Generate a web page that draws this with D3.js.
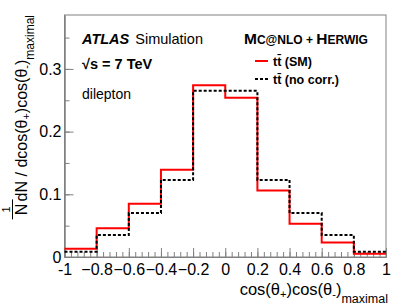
<!DOCTYPE html>
<html><head><meta charset="utf-8">
<script src="https://cdn.jsdelivr.net/npm/d3@7/dist/d3.min.js"></script>
<style>
body{margin:0;background:#fff;}
svg{display:block;font-family:"Liberation Sans",Arial,Helvetica,sans-serif;}
</style></head>
<body><svg id="c" width="407" height="308"></svg>
<script>
const binEdges = [-1,-0.8,-0.6,-0.4,-0.2,0,0.2,0.4,0.6,0.8,1];
const smValues = [0.013,0.046,0.085,0.139,0.274,0.254,0.106,0.053,0.023,0.005];
const noCorrValues = [0.0085,0.035,0.070,0.123,0.265,0.265,0.123,0.070,0.035,0.0085];
const xTickLabels = [-1,-0.8,-0.6,-0.4,-0.2,0,0.2,0.4,0.6,0.8,1];
const yTickLabels = [0,0.1,0.2,0.3];

const svg = d3.select("#c");
const L=64.5, R=386, T=15, B=257;
const x = d3.scaleLinear().domain([-1,1]).range([L,R]);
const y = d3.scaleLinear().domain([0,0.386]).range([B,T]);

svg.append("rect").attr("x",L).attr("y",T).attr("width",R-L).attr("height",B-T)
  .attr("fill","none").attr("stroke","#808080").attr("stroke-width",1);

const yMinor = d3.range(0,0.3851,0.05);
const xMinor = d3.range(-1,1.0001,0.04);
const gyMin = svg.append("g").attr("transform",`translate(${L},0)`)
  .call(d3.axisLeft(y).tickValues(yMinor).tickSizeInner(-5).tickSizeOuter(0).tickFormat(""));
const gxMin = svg.append("g").attr("transform",`translate(0,${B})`)
  .call(d3.axisBottom(x).tickValues(xMinor).tickSizeInner(-5).tickSizeOuter(0).tickFormat(""));
const gy = svg.append("g").attr("transform",`translate(${L},0)`)
  .call(d3.axisLeft(y).tickValues(yTickLabels).tickSizeInner(-9).tickSizeOuter(0).tickPadding(3)
  .tickFormat(d=>d===0?"0":d3.format(".1f")(d)));
const gx = svg.append("g").attr("transform",`translate(0,${B})`)
  .call(d3.axisBottom(x).tickValues(xTickLabels).tickSizeInner(-9).tickSizeOuter(0).tickPadding(7)
  .tickFormat(d=>d===0?"0":(Math.abs(d)===1?String(d):d3.format(".1f")(d))));
[gyMin,gxMin,gy,gx].forEach(g=>{
  g.select(".domain").attr("stroke","#808080");
  g.selectAll(".tick line").attr("stroke","#808080");
  g.selectAll("text").attr("font-size",16).attr("fill","#000")
   .attr("font-family","'Liberation Sans',Arial,sans-serif");
});

function stepPath(vals){
  let p = "";
  vals.forEach((v,i)=>{
    const x0=x(binEdges[i]), x1=x(binEdges[i+1]), yy=y(v);
    p += (i===0?"M":"L")+x0+","+yy+"L"+x1+","+yy;
  });
  return p;
}
svg.append("path").attr("d",stepPath(smValues)).attr("fill","none")
  .attr("stroke","#ff0000").attr("stroke-width",2);
svg.append("path").attr("d",stepPath(noCorrValues)).attr("fill","none")
  .attr("stroke","#000").attr("stroke-width",2).attr("stroke-dasharray","3,2");

const t1 = svg.append("text").attr("x",82).attr("y",44).attr("font-size",14.5);
t1.append("tspan").attr("font-weight","bold").attr("font-style","italic").text("ATLAS");
t1.append("tspan").attr("dx",6).text("Simulation");
svg.append("text").attr("x",82).attr("y",69).attr("font-size",14.5).attr("font-weight","bold").text("\u221As = 7 TeV");
svg.append("text").attr("x",82).attr("y",99).attr("font-size",14).text("dilepton");

const mc = svg.append("text").attr("x",244).attr("y",44).attr("font-weight","bold").attr("font-size",15.5);
mc.append("tspan").text("M");
mc.append("tspan").attr("font-size",12).text("C@NLO + ");
mc.append("tspan").text("H");
mc.append("tspan").attr("font-size",12).text("ERWIG");

svg.append("line").attr("x1",255).attr("x2",268).attr("y1",61).attr("y2",61)
  .attr("stroke","#ff0000").attr("stroke-width",2);
svg.append("line").attr("x1",255).attr("x2",268).attr("y1",79).attr("y2",79)
  .attr("stroke","#000").attr("stroke-width",2).attr("stroke-dasharray","3,2");
svg.append("text").attr("x",273).attr("y",65.5).attr("font-size",12.5).attr("font-weight","bold").text("t\u0074\u0304 (SM)");
svg.append("text").attr("x",273).attr("y",84).attr("font-size",12.5).attr("font-weight","bold").text("t\u0074\u0304 (no corr.)");

const xt = svg.append("text").attr("x",388).attr("y",295).attr("text-anchor","end").attr("font-size",16.5);
xt.append("tspan").text("cos(\u03B8");
xt.append("tspan").attr("font-size",11).attr("dy",3).text("+");
xt.append("tspan").attr("dy",-3).text(")cos(\u03B8");
xt.append("tspan").attr("font-size",11).attr("dy",3).text("-");
xt.append("tspan").attr("dy",-3).text(")");
xt.append("tspan").attr("font-size",12.5).attr("dy",8).text("maximal");

const yg = svg.append("g").attr("transform","rotate(-90)");
const yt = yg.append("text").attr("x",-15).attr("y",27).attr("font-size",16).attr("text-anchor","end");
yt.append("tspan").text("dN / dcos(\u03B8");
yt.append("tspan").attr("font-size",11).attr("dy",3).text("+");
yt.append("tspan").attr("dy",-3).text(")cos(\u03B8");
yt.append("tspan").attr("font-size",11).attr("dy",3).text("-");
yt.append("tspan").attr("dy",-3).text(")");
yt.append("tspan").attr("font-size",12).attr("dy",7).text("maximal");
const len = yt.node().getComputedTextLength();
const start = -15 - len; // rotated x of start
const fc = start - 8;
yg.append("text").attr("x",fc).attr("y",10).attr("text-anchor","middle").attr("font-size",11).text("1");
yg.append("line").attr("x1",fc-10).attr("x2",fc+10).attr("y1",12.5).attr("y2",12.5).attr("stroke","#000").attr("stroke-width",1);
yg.append("text").attr("x",fc).attr("y",27).attr("text-anchor","middle").attr("font-size",16).text("N");
</script></body></html>
